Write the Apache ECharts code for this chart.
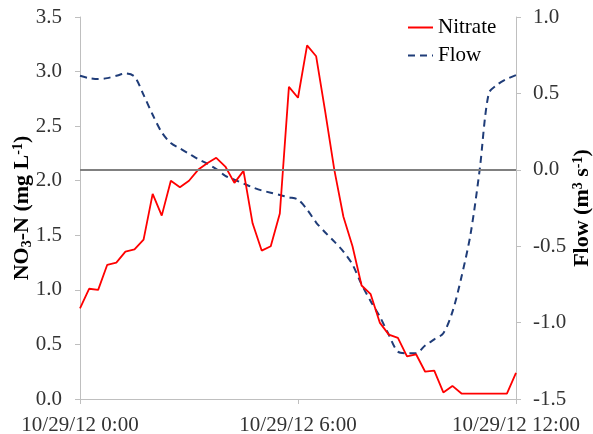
<!DOCTYPE html>
<html>
<head>
<meta charset="utf-8">
<script src="https://cdn.jsdelivr.net/npm/echarts@6/dist/echarts.min.js"></script>
<style>
html,body{margin:0;padding:0;background:#fff;}
#chart{width:593px;height:434px;}
</style>
</head>
<body>
<div id="chart"></div>
<script>
var times = ["0:00","0:15","0:30","0:45","1:00","1:15","1:30","1:45","2:00","2:15","2:30","2:45",
  "3:00","3:15","3:30","3:45","4:00","4:15","4:30","4:45","5:00","5:15","5:30","5:45",
  "6:00","6:15","6:30","6:45","7:00","7:15","7:30","7:45","8:00","8:15","8:30","8:45",
  "9:00","9:15","9:30","9:45","10:00","10:15","10:30","10:45","11:00","11:15","11:30","11:45","12:00"];
var datePrefix = "10/29/12 ";
var nitrate = [0.83,1.01,1.00,1.23,1.25,1.35,1.37,1.46,1.88,1.68,2.00,1.94,2.00,2.10,2.16,2.21,2.13,1.98,2.09,1.61,
  1.36,1.40,1.70,2.86,2.76,3.24,3.14,2.63,2.10,1.67,1.40,1.04,0.96,0.70,0.59,0.56,0.39,0.41,0.25,0.26,
  0.06,0.12,0.05,0.05,0.05,0.05,0.05,0.05,0.24];
var flow = [0.615,0.60,0.594,0.60,0.615,0.63,0.61,0.49,0.36,0.245,0.175,0.14,0.105,0.07,0.04,0.005,-0.04,-0.065,-0.09,-0.115,
  -0.135,-0.15,-0.165,-0.18,-0.195,-0.26,-0.345,-0.41,-0.47,-0.535,-0.62,-0.75,-0.86,-0.96,-1.08,-1.19,-1.20,-1.20,-1.15,-1.11,
  -1.07,-0.93,-0.70,-0.42,0.0,0.50,0.56,0.595,0.62];
var seriesNames = ["Nitrate","Flow"];

var FONT = "Liberation Serif";
var chart = echarts.init(document.getElementById('chart'), null, {renderer:'canvas'});
var axisLineStyle = {color:'#BFBFBF', width:1};
var nameRich = {
  b:{fontFamily:FONT, fontSize:22, fontWeight:'bold', color:'#000'},
  sub:{fontFamily:FONT, fontSize:14, fontWeight:'bold', color:'#000', verticalAlign:'bottom', padding:[9,0,0,0]},
  sup:{fontFamily:FONT, fontSize:14, fontWeight:'bold', color:'#000', verticalAlign:'top', padding:[0,0,9,0]}
};
chart.setOption({
  animation:false,
  backgroundColor:'#fff',
  grid:{left:80, right:77, top:17, bottom:35, containLabel:false, outerBoundsMode:'none'},
  legend:{
    data:seriesNames,
    orient:'vertical',
    left:402, top:12,
    itemWidth:25, itemHeight:14, itemGap:7,
    itemStyle:{opacity:0},
    textStyle:{fontFamily:FONT, fontSize:21, color:'#000'},
    selectedMode:false
  },
  xAxis:{
    type:'category',
    data:times,
    boundaryGap:false,
    axisLine:{lineStyle:axisLineStyle},
    axisTick:{show:true, interval:23, length:5, lineStyle:axisLineStyle},
    axisLabel:{interval:23, margin:16, formatter:function(v){return datePrefix+v;}, fontFamily:FONT, fontSize:21, color:'#333'},
    splitLine:{show:false}
  },
  yAxis:[{
    type:'value', min:0, max:3.5, interval:0.5,
    position:'left',
    name:'{b|NO}{sub|3}{b|-N (mg L}{sup|-1}{b|)}',
    nameLocation:'middle', nameRotate:90, nameGap:46, nameMoveOverlap:false,
    nameTextStyle:{rich:nameRich},
    axisLine:{show:true, lineStyle:axisLineStyle},
    axisTick:{show:true, length:5, lineStyle:axisLineStyle},
    axisLabel:{margin:18, align:'right', formatter:function(v){return v.toFixed(1);}, fontFamily:FONT, fontSize:21, color:'#333'},
    splitLine:{show:false}
  },{
    type:'value', min:-1.5, max:1.0, interval:0.5,
    position:'right',
    name:'{b|Flow (m}{sup|3}{b| s}{sup|-1}{b|)}',
    nameLocation:'middle', nameRotate:90, nameGap:55, nameMoveOverlap:false,
    nameTextStyle:{rich:nameRich},
    axisLine:{show:true, onZero:false, lineStyle:axisLineStyle},
    axisTick:{show:true, length:5, lineStyle:axisLineStyle},
    axisLabel:{margin:17, align:'left', formatter:function(v){return v.toFixed(1);}, fontFamily:FONT, fontSize:21, color:'#333'},
    splitLine:{show:false}
  }],
  series:[{
    name:seriesNames[0], type:'line', yAxisIndex:0,
    data:nitrate, symbol:'none', showSymbol:false,
    lineStyle:{color:'#FF0000', width:1.8},
    itemStyle:{color:'#FF0000'},
    z:3
  },{
    name:seriesNames[1], type:'line', yAxisIndex:1,
    data:flow, symbol:'none', showSymbol:false, smooth:0.3,
    lineStyle:{color:'#1F3C78', width:2, type:[7,5]},
    itemStyle:{color:'#1F3C78'},
    z:2,
    markLine:{
      silent:true, symbol:'none', label:{show:false},
      lineStyle:{color:'#808080', width:2, type:'solid'},
      data:[{yAxis:0}]
    }
  }]
});
</script>
</body>
</html>
